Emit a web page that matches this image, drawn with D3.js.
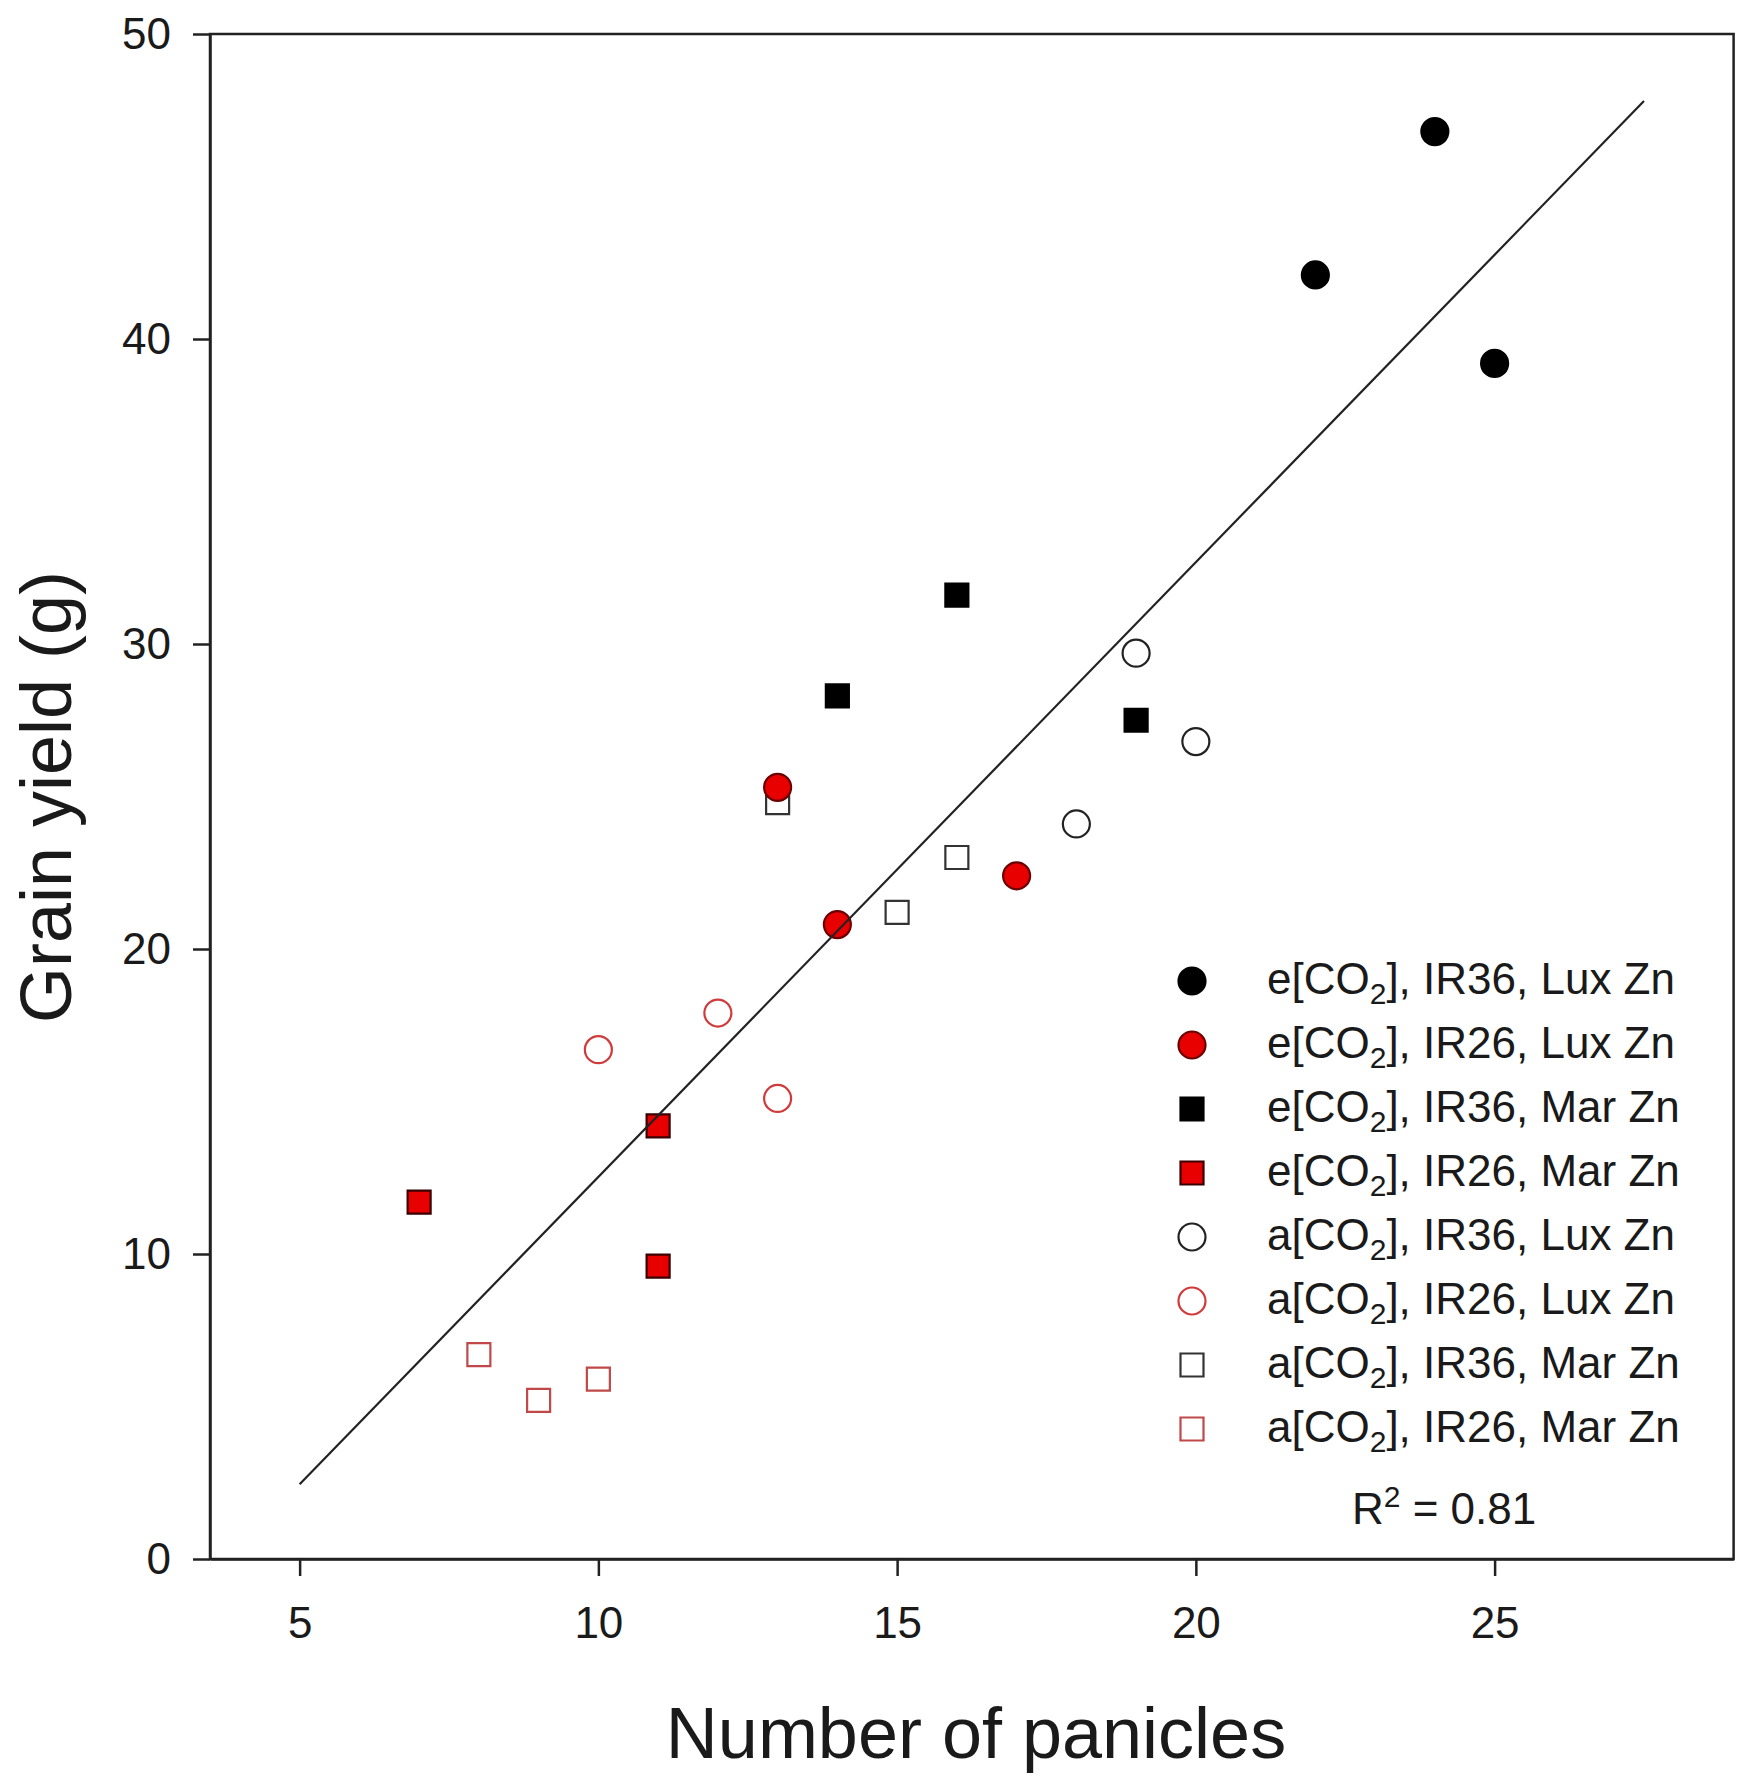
<!DOCTYPE html>
<html><head><meta charset="utf-8">
<script src="https://cdn.jsdelivr.net/npm/d3@7"></script>
<style>
body{margin:0;background:#fff}
text{font-family:"Liberation Sans",Arial,sans-serif;fill:#1a1a1a}
</style>
</head><body>
<svg id="c" width="1751" height="1786"></svg>
<script>
// ---- data ----
const xTicks = [5, 10, 15, 20, 25];
const yTicks = [0, 10, 20, 30, 40, 50];
const xTitle = "Number of panicles";
const yTitle = "Grain yield (g)";
const seriesCO2 = ["e", "e", "e", "e", "a", "a", "a", "a"];
const seriesCultivar = ["IR36", "IR26", "IR36", "IR26", "IR36", "IR26", "IR36", "IR26"];
const seriesZn = ["Lux Zn", "Lux Zn", "Mar Zn", "Mar Zn", "Lux Zn", "Lux Zn", "Mar Zn", "Mar Zn"];
const eIR36Lux_x = [24, 22, 25];  const eIR36Lux_y = [46.8, 42.1, 39.2];
const eIR26Lux_x = [13, 14, 17];  const eIR26Lux_y = [25.3, 20.8, 22.4];
const eIR36Mar_x = [16, 14, 19];  const eIR36Mar_y = [31.6, 28.3, 27.5];
const eIR26Mar_x = [7, 11, 11];   const eIR26Mar_y = [11.7, 14.2, 9.6];
const aIR36Lux_x = [19, 20, 18];  const aIR36Lux_y = [29.7, 26.8, 24.1];
const aIR26Lux_x = [10, 12, 13];  const aIR26Lux_y = [16.7, 17.9, 15.1];
const aIR36Mar_x = [13, 16, 15];  const aIR36Mar_y = [24.8, 23.0, 21.2];
const aIR26Mar_x = [8, 9, 10];    const aIR26Mar_y = [6.7, 5.2, 5.9];
const fitX = [5, 27.5];
const fitY = [2.45, 47.8];
const r2Label = "0.81";

// ---- styles ----
const seriesX = [eIR36Lux_x, eIR26Lux_x, eIR36Mar_x, eIR26Mar_x, aIR36Lux_x, aIR26Lux_x, aIR36Mar_x, aIR26Mar_x];
const seriesY = [eIR36Lux_y, eIR26Lux_y, eIR36Mar_y, eIR26Mar_y, aIR36Lux_y, aIR26Lux_y, aIR36Mar_y, aIR26Mar_y];
const styles = [
  {shape: "circle", fill: "#000", stroke: "#000"},
  {shape: "circle", fill: "#e80000", stroke: "#6a0000"},
  {shape: "square", fill: "#000", stroke: "#000"},
  {shape: "square", fill: "#e80000", stroke: "#3a0000"},
  {shape: "circle", fill: "#fff", stroke: "#222"},
  {shape: "circle", fill: "#fff", stroke: "#d03a3a"},
  {shape: "square", fill: "#fff", stroke: "#333"},
  {shape: "square", fill: "#fff", stroke: "#c04848"}
];

const svg = d3.select("#c");
const L = 210, R = 1733.6, T = 34, B = 1559;
const x = d3.scaleLinear().domain([3.5, 29.0]).range([L, R]);
const y = d3.scaleLinear().domain([0, 50]).range([B, T]);
const axisColor = "#222";

// frame
svg.append("rect").attr("x", L).attr("y", T).attr("width", R - L).attr("height", B - T)
  .attr("fill", "none").attr("stroke", axisColor).attr("stroke-width", 2.5);

const gx = svg.append("g").attr("transform", `translate(0,${B})`)
  .call(d3.axisBottom(x).tickValues(xTicks).tickSize(17).tickSizeOuter(0).tickPadding(31).tickFormat(d3.format("d")));
const gy = svg.append("g").attr("transform", `translate(${L},0)`)
  .call(d3.axisLeft(y).tickValues(yTicks).tickSize(17).tickSizeOuter(0).tickPadding(22).tickFormat(d3.format("d")));
[gx, gy].forEach(g => {
  g.select(".domain").attr("stroke", axisColor).attr("stroke-width", 2.5);
  g.selectAll(".tick line").attr("stroke", axisColor).attr("stroke-width", 2.5);
  g.selectAll(".tick text").attr("font-size", 44).attr("font-family", '"Liberation Sans",Arial,sans-serif').attr("fill", "#1a1a1a");
});

// titles
svg.append("text").attr("x", 976).attr("y", 1758).attr("text-anchor", "middle")
  .attr("font-size", 72).text(xTitle);
svg.append("text").attr("transform", `translate(71,797) rotate(-90)`).attr("text-anchor", "middle")
  .attr("font-size", 72).text(yTitle);

// markers
const sym = (shape) => d3.symbol().type(shape === "circle" ? d3.symbolCircle : d3.symbolSquare)
  .size(shape === "circle" ? Math.PI * 13.5 * 13.5 : 23 * 23);
const order = [7, 6, 5, 4, 3, 2, 1, 0];
order.forEach(i => {
  const st = styles[i];
  const pts = seriesX[i].map((v, k) => [v, seriesY[i][k]]);
  svg.append("g").selectAll("path").data(pts).join("path")
    .attr("transform", d => `translate(${x(d[0])},${y(d[1])})`)
    .attr("d", sym(st.shape)())
    .attr("fill", st.fill).attr("stroke", st.stroke).attr("stroke-width", 2.2);
});

// regression line
svg.append("path")
  .datum(fitX.map((v, k) => [v, fitY[k]]))
  .attr("d", d3.line().x(d => x(d[0])).y(d => y(d[1])))
  .attr("fill", "none").attr("stroke", "#222").attr("stroke-width", 2.2);

// legend
const legX = 1192, legTextX = 1267, legY0 = 981, legDy = 64, fs = 44;
seriesCO2.forEach((c, i) => {
  const cy = legY0 + i * legDy;
  const st = styles[i];
  svg.append("path").attr("transform", `translate(${legX},${cy})`)
    .attr("d", sym(st.shape)()).attr("fill", st.fill).attr("stroke", st.stroke).attr("stroke-width", 2.2);
  const t = svg.append("text").attr("x", legTextX).attr("y", cy + 13).attr("font-size", fs);
  t.append("tspan").text(c + "[CO");
  t.append("tspan").attr("font-size", 30).attr("dy", 10).text("2");
  t.append("tspan").attr("dy", -10).text(`], ${seriesCultivar[i]}, ${seriesZn[i]}`);
});
const rt = svg.append("text").attr("x", 1352).attr("y", 1524).attr("font-size", fs);
rt.append("tspan").text("R");
rt.append("tspan").attr("font-size", 30).attr("dy", -17).text("2");
rt.append("tspan").attr("dy", 17).text(" = " + r2Label);
</script>
</body></html>
